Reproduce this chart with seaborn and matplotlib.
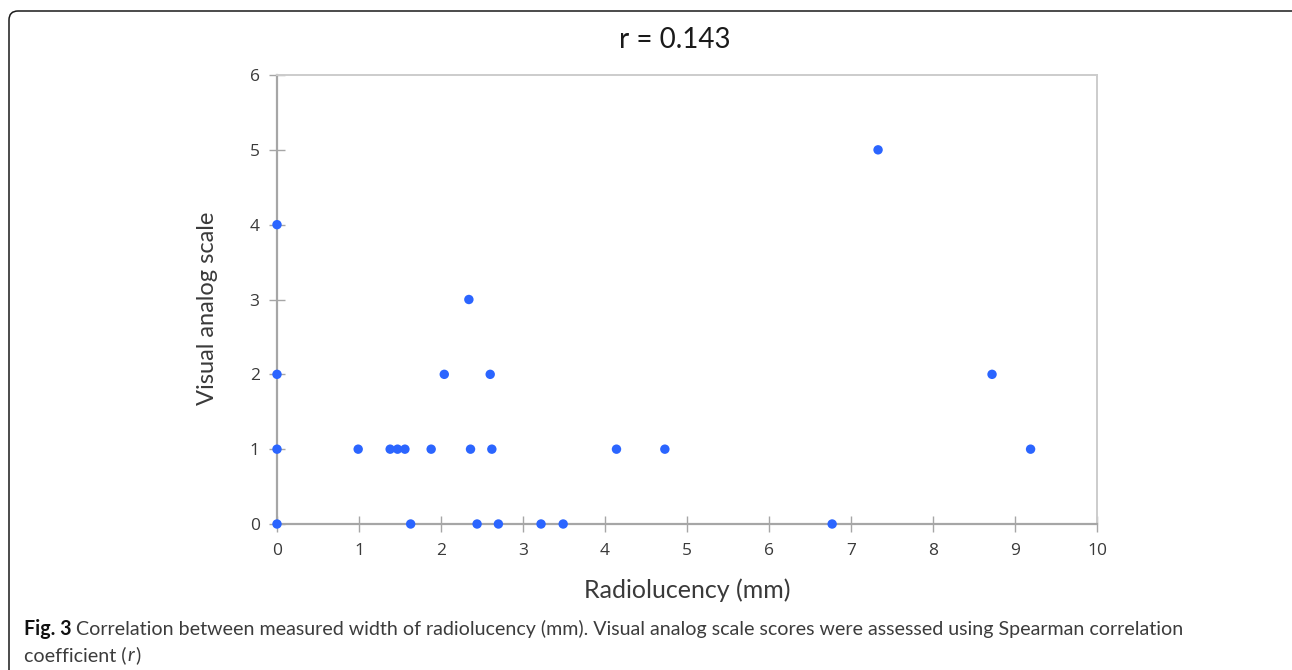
import numpy as np
import pandas as pd
import matplotlib
matplotlib.use('Agg')
import matplotlib.pyplot as plt
import seaborn as sns
from matplotlib.patches import FancyBboxPatch
from matplotlib.transforms import IdentityTransform

# data
radiolucency = [0, 0, 0, 0, 0.99, 1.38, 1.47, 1.56, 1.63, 1.88, 2.04, 2.34, 2.36,
                2.44, 2.60, 2.62, 2.70, 3.22, 3.49, 4.14, 4.73, 6.77, 7.33, 8.72, 9.19]
vas_score = [0, 1, 2, 4, 1, 1, 1, 1, 0, 1, 2, 3, 1,
             0, 2, 1, 0, 0, 0, 1, 1, 0, 5, 2, 1]
x_ticks = [0, 1, 2, 3, 4, 5, 6, 7, 8, 9, 10]
y_ticks = [0, 1, 2, 3, 4, 5, 6]
title_text = 'r = 0.143'
x_label = 'Radiolucency (mm)'
y_label = 'Visual analog scale'
caption_bold = 'Fig. 3'
caption_line1 = 'Correlation between measured width of radiolucency (mm). Visual analog scale scores were assessed using Spearman correlation'
caption_line2 = ('coefficient (', 'r', ')')

W, H = 1292, 670

sns.set_style('white')
plt.rcParams['font.family'] = ['Lato', 'DejaVu Sans']

df = pd.DataFrame({'radiolucency': radiolucency, 'vas': vas_score})

fig = plt.figure(figsize=(W / 100, H / 100), dpi=100)
ax = fig.add_axes([277 / W, 1 - 524 / H, 820 / W, 449 / H])

sns.scatterplot(data=df, x='radiolucency', y='vas', color='#2b65ff', s=46,
                edgecolor='none', clip_on=False, zorder=5, ax=ax)

ax.set_xlim(0, 10)
ax.set_ylim(0, 6)
ax.set_xticks(x_ticks)
ax.set_yticks(y_ticks)
ax.tick_params(bottom=True, left=True, direction='inout', length=11, width=1,
               color='#a6a6a6', labelcolor='#3a3a3a', labelsize=12.5)
ax.tick_params(axis='x', pad=8)
ax.tick_params(axis='y', pad=7)
for lab in ax.get_xticklabels() + ax.get_yticklabels():
    lab.set_fontfamily(['Open Sans', 'DejaVu Sans'])

for side in ['left', 'bottom']:
    ax.spines[side].set_color('#a6a6a6')
    ax.spines[side].set_linewidth(1.6)
for side in ['top', 'right']:
    ax.spines[side].set_color('#cccccc')
    ax.spines[side].set_linewidth(1.4)

ax.set_title(title_text, fontsize=20, color='#1a1a1a', pad=19.5)
ax.title.set_x((675 - 277) / 820)
ax.set_xlabel(x_label, fontsize=18, color='#3a3a3a', va='center')
ax.xaxis.set_label_coords(0.5, -(590 - 524) / 449)
ax.set_ylabel(y_label, fontsize=17, color='#3a3a3a', va='center')
ax.yaxis.set_label_coords(-(277 - 208) / 820, 0.48)

# rounded frame round the figure (runs off the right and bottom edges)
frame = FancyBboxPatch((9, -30), 1300, H - 11 + 30, boxstyle='round,pad=0,rounding_size=9',
                       transform=IdentityTransform(), fill=False, edgecolor='#1a1a1a',
                       linewidth=1.1, figure=fig)
fig.patches.append(frame)

# caption, sized so that the first line ends where it does in the figure
cap_font = ['Lato', 'DejaVu Sans']
renderer = fig.canvas.get_renderer()


def text_width(s, size, **kw):
    t = fig.text(0, 0, s, fontsize=size, family=cap_font, **kw)
    w = t.get_window_extent(renderer).width
    t.remove()
    return w


base = 14
gap = text_width('x x', base) - text_width('xx', base)
full = text_width(caption_bold, base, weight='bold') + gap + text_width(caption_line1, base)
cap_size = base * (1190 - 24) / full
gap = text_width('x x', cap_size) - text_width('xx', cap_size)

x0 = 24
y1 = 1 - 635 / H
y2 = 1 - 661 / H
t = fig.text(x0 / W, y1, caption_bold, fontsize=cap_size, family=cap_font,
             weight='bold', color='#111111', va='baseline')
x = x0 + t.get_window_extent(renderer).width + gap
fig.text(x / W, y1, caption_line1, fontsize=cap_size, family=cap_font,
         color='#3c3c3c', va='baseline')

x = x0
for i, piece in enumerate(caption_line2):
    style = 'italic' if i == 1 else 'normal'
    t = fig.text(x / W, y2, piece, fontsize=cap_size, family=cap_font,
                 style=style, color='#3c3c3c', va='baseline')
    x += t.get_window_extent(renderer).width + 1

fig.savefig('out.png', dpi=100)
plt.close(fig)
